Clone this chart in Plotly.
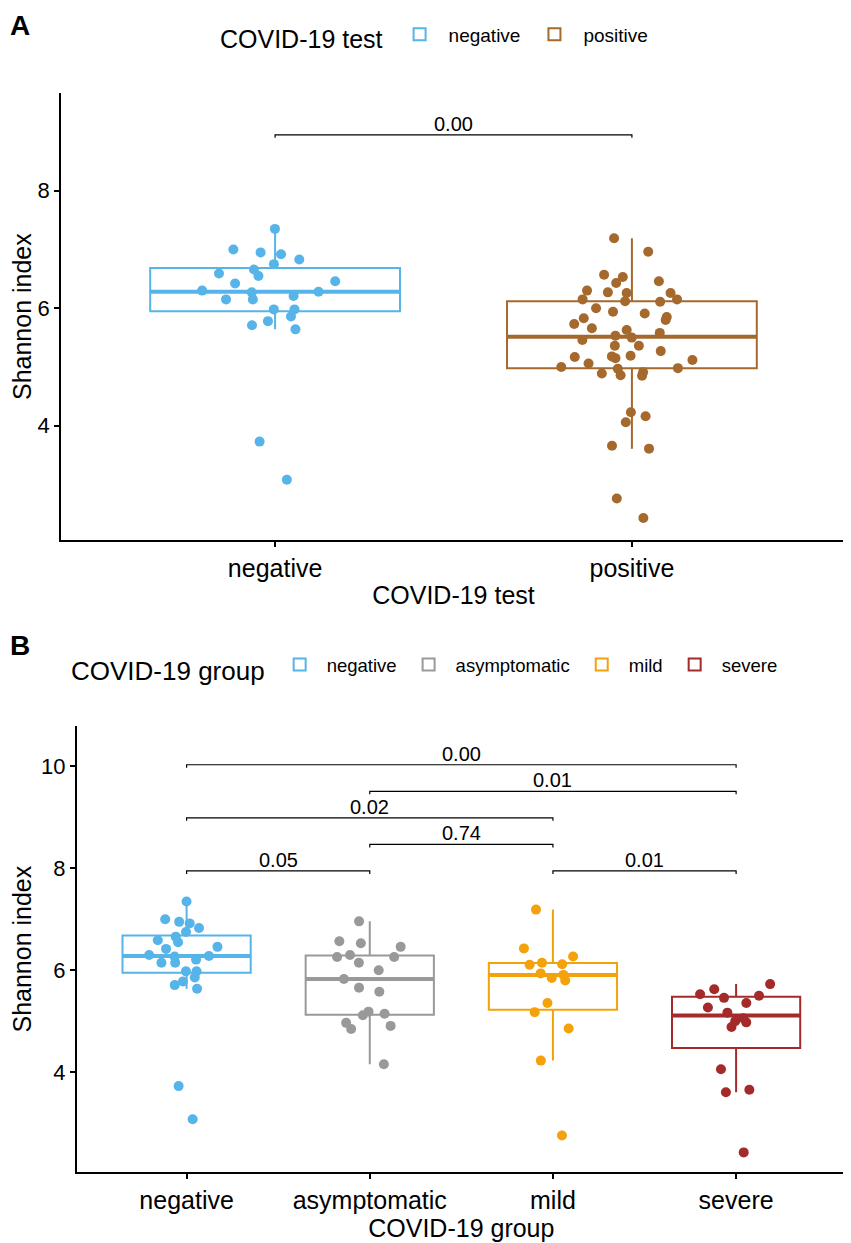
import numpy as np
import plotly.graph_objects as go

# Shannon index per sample
negative = [7.35, 6.92, 6.95, 7.00, 6.83, 6.75, 6.66, 6.59, 6.46, 6.55, 6.42, 6.27, 6.28,
            6.21, 6.15, 6.15, 6.30, 5.98, 5.98, 5.86, 5.78, 5.64, 5.71, 3.73, 3.08]
asymptomatic = [6.96, 6.57, 6.46, 6.53, 6.30, 6.26, 6.15, 6.26, 6.00, 5.83,
                5.66, 5.58, 5.12, 5.19, 5.15, 4.97, 4.91, 4.85, 4.16]
mild = [7.19, 6.43, 6.27, 6.15, 6.12, 6.11, 5.91, 5.94, 5.80, 5.85, 5.36, 5.18, 4.86, 4.23, 2.76]
severe = [5.73, 5.63, 5.53, 5.46, 5.50, 5.36, 5.27, 5.17, 5.06, 4.98, 5.00, 4.89,
          4.06, 3.61, 3.66, 2.43]
positive = asymptomatic + mild + severe

test_groups = ['negative', 'positive']
covid_groups = ['negative', 'asymptomatic', 'mild', 'severe']

# pairwise p values shown on the brackets
pairs_a = [('negative', 'positive')]
p_a = ['0.00']
pairs_b = [('negative', 'asymptomatic'), ('mild', 'severe'), ('asymptomatic', 'mild'),
           ('negative', 'mild'), ('asymptomatic', 'severe'), ('negative', 'severe')]
p_b = ['0.05', '0.01', '0.74', '0.02', '0.01', '0.00']
tier_b = [0, 0, 1, 2, 3, 4]

test_colors = {'negative': '#56B4E9', 'positive': '#A5692D'}
group_colors = {'negative': '#56B4E9', 'asymptomatic': '#999999',
                'mild': '#F4A20C', 'severe': '#A52A2A'}

FONT = 'Liberation Sans, Arial, sans-serif'
BOXW = 0.7

# the page body has an 8px margin, so the figure is a bit smaller and
# positions below are given in window pixels and converted
OFF = 8
FW, FH = 851 - OFF, 1243 - OFF


def fx(px):
    return (px - OFF) / FW


def fy(py):
    return 1 - (py - OFF) / FH


fig = go.Figure()


def add_panel(groups, data, colors, xa, ya, leg):
    for i, (g, vals) in enumerate(zip(groups, data)):
        c = colors[g]
        fig.add_trace(go.Box(
            y=vals, x=[g] * len(vals), name=g, xaxis=xa, yaxis=ya, legend=leg,
            boxpoints='all', jitter=0.6, pointpos=0, whiskerwidth=0,
            marker=dict(color=c, size=10, opacity=1),
            line=dict(color=c, width=2), fillcolor='rgba(0,0,0,0)',
            hoverinfo='y'))
        # thicker median line like ggplot
        med = float(np.median(vals))
        fig.add_shape(type='line', xref=xa, yref=ya, layer='below',
                      x0=i - BOXW / 2, x1=i + BOXW / 2, y0=med, y1=med,
                      line=dict(color=c, width=4))


def add_brackets(groups, pairs, labels, levels, drop, xa, ya):
    for (g1, g2), lab, h in zip(pairs, labels, levels):
        fig.add_trace(go.Scatter(
            x=[g1, g1, g2, g2], y=[h - drop, h, h, h - drop], mode='lines',
            xaxis=xa, yaxis=ya, line=dict(color='black', width=1.2),
            showlegend=False, hoverinfo='skip'))
        mid = (groups.index(g1) + groups.index(g2)) / 2
        fig.add_annotation(x=mid, y=h, xref=xa, yref=ya, text=lab, showarrow=False,
                           yanchor='bottom', yshift=-2, font=dict(size=20, color='black'))


add_panel(test_groups, [negative, positive], test_colors, 'x', 'y', 'legend')
add_panel(covid_groups, [negative, asymptomatic, mild, severe], group_colors, 'x2', 'y2', 'legend2')

add_brackets(test_groups, pairs_a, p_a, [8.95], 0.05, 'x', 'y')
add_brackets(covid_groups, pairs_b, p_b, [7.95 + 0.52 * t for t in tier_b], 0.06, 'x2', 'y2')

axis_common = dict(showline=True, linecolor='black', linewidth=1.5, ticks='outside',
                   ticklen=5, tickwidth=1.5, tickcolor='black', showgrid=False,
                   zeroline=False)

legend_common = dict(orientation='h', xanchor='left', yanchor='middle',
                     bgcolor='rgba(0,0,0,0)')

fig.update_layout(
    width=FW, height=FH, template='none',
    margin=dict(l=0, r=0, t=0, b=0),
    paper_bgcolor='white', plot_bgcolor='white',
    font=dict(family=FONT, color='black'),
    boxgap=1 - BOXW, boxgroupgap=0, boxmode='overlay',
    xaxis=dict(domain=[fx(61), fx(846)], anchor='y', type='category',
               categoryorder='array', categoryarray=test_groups, range=[-0.6, 1.6],
               tickfont=dict(size=25), title=dict(text='COVID-19 test', font=dict(size=25), standoff=6),
               **axis_common),
    yaxis=dict(domain=[fy(540), fy(93.3)], anchor='x', range=[2.055, 9.658],
               dtick=2, tickfont=dict(size=22),
               title=dict(text='Shannon index', font=dict(size=25), standoff=10),
               **axis_common),
    xaxis2=dict(domain=[fx(76.7), fx(846)], anchor='y2', type='category',
                categoryorder='array', categoryarray=covid_groups, range=[-0.6, 3.6],
                tickfont=dict(size=25), title=dict(text='COVID-19 group', font=dict(size=25), standoff=6),
                **axis_common),
    yaxis2=dict(domain=[fy(1172.3), fy(726)], anchor='x2', range=[2.04, 10.79],
                dtick=2, tickfont=dict(size=22),
                title=dict(text='Shannon index', font=dict(size=25), standoff=10),
                **axis_common),
    legend=dict(x=fx(218), y=fy(37), itemwidth=48, font=dict(size=19),
                title=dict(text='COVID-19 test', side='left', font=dict(size=25)),
                **legend_common),
    legend2=dict(x=fx(69), y=fy(668), itemwidth=44, font=dict(size=18.5),
                 title=dict(text='COVID-19 group', side='left', font=dict(size=26)),
                 **legend_common),
)

# panel letters
fig.add_annotation(x=0, y=1, xref='paper', yref='paper', text='<b>A</b>',
                   showarrow=False, xanchor='left', yanchor='top', font=dict(size=28))
fig.add_annotation(x=0, y=fy(645), xref='paper', yref='paper', text='<b>B</b>',
                   showarrow=False, xanchor='left', yanchor='middle', font=dict(size=28))

fig.write_html("out.html")
